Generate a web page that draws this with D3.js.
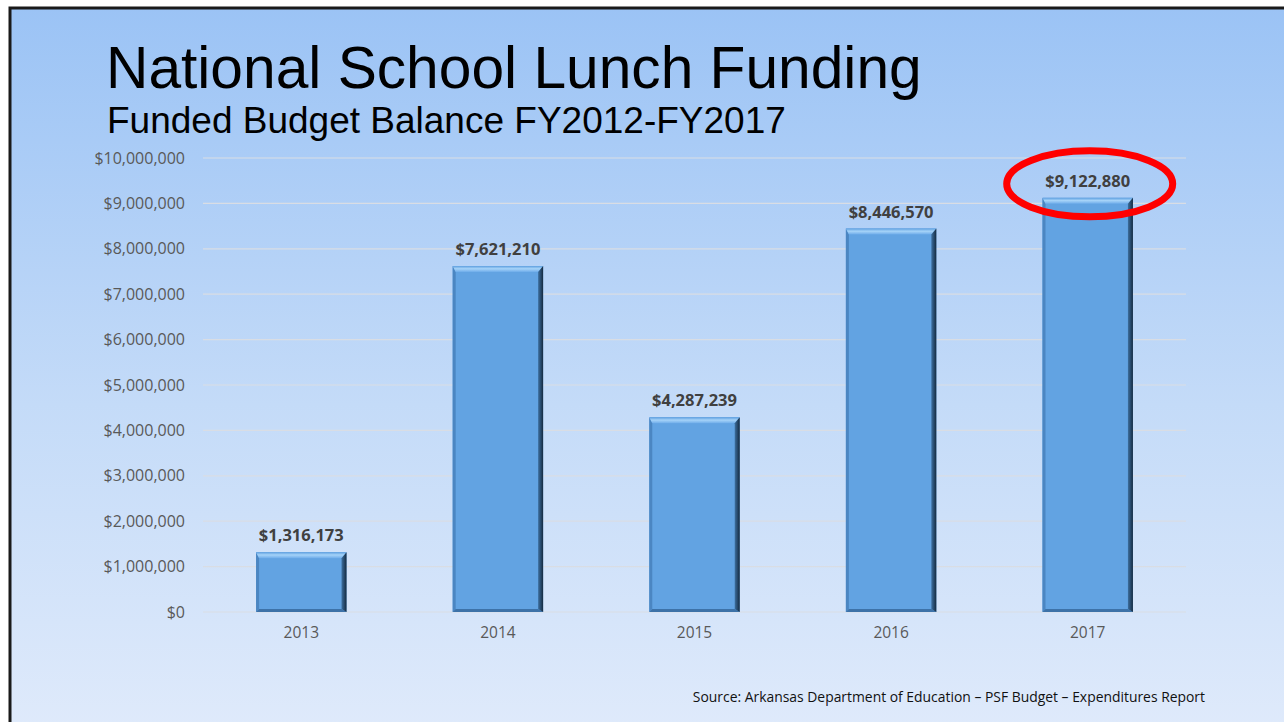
<!DOCTYPE html>
<html>
<head>
<meta charset="utf-8">
<script src="https://cdn.jsdelivr.net/npm/d3@7"></script>
<style>
  body { margin: 0; background: #fff; }
  svg { display: block; }
</style>
</head>
<body>
<div id="chart"></div>
<script>
// data
const years = ["2013", "2014", "2015", "2016", "2017"];
const balances = [1316173, 7621210, 4287239, 8446570, 9122880];
const yTicks = [0, 1000000, 2000000, 3000000, 4000000, 5000000, 6000000, 7000000, 8000000, 9000000, 10000000];
const highlightYear = "2017";

const W = 1284, H = 722;
const svg = d3.select("#chart").append("svg")
    .attr("width", W)
    .attr("height", H);

const defs = svg.append("defs");
let bg = defs.append("linearGradient").attr("id", "bg")
    .attr("x1", 0).attr("y1", 0).attr("x2", 0).attr("y2", 1);
bg.append("stop").attr("offset", "0%").attr("stop-color", "#9bc3f5");
bg.append("stop").attr("offset", "55%").attr("stop-color", "#c4dbf8");
bg.append("stop").attr("offset", "100%").attr("stop-color", "#dfeafb");

let topG = defs.append("linearGradient").attr("id", "bevelTop")
    .attr("x1", 0).attr("y1", 0).attr("x2", 0).attr("y2", 1);
topG.append("stop").attr("offset", "0%").attr("stop-color", "#5d9fe0");
topG.append("stop").attr("offset", "45%").attr("stop-color", "#a6d3f8");
topG.append("stop").attr("offset", "100%").attr("stop-color", "#6eacea");

let rightG = defs.append("linearGradient").attr("id", "bevelRight")
    .attr("x1", 0).attr("y1", 0).attr("x2", 1).attr("y2", 0);
rightG.append("stop").attr("offset", "0%").attr("stop-color", "#3d6f9f");
rightG.append("stop").attr("offset", "100%").attr("stop-color", "#142a40");

// slide frame
svg.append("rect")
    .attr("x", 10).attr("y", 8)
    .attr("width", W).attr("height", H)
    .attr("fill", "url(#bg)")
    .attr("stroke", "#1a1a1a")
    .attr("stroke-width", 3);

// titles
svg.append("text")
    .attr("x", 106).attr("y", 88)
    .attr("font-family", "Liberation Sans, Arial, sans-serif")
    .attr("font-size", 58.7)
    .attr("fill", "#000")
    .text("National School Lunch Funding");

svg.append("text")
    .attr("x", 107).attr("y", 133)
    .attr("font-family", "Liberation Sans, Arial, sans-serif")
    .attr("font-size", 37)
    .attr("fill", "#000")
    .text("Funded Budget Balance FY2012-FY2017");

const margin = {top: 158, left: 203, right: 98, bottom: 110};
const plotW = W - margin.left - margin.right;
const plotH = H - margin.top - margin.bottom;

const x = d3.scaleBand().domain(years).range([0, plotW]).paddingInner(0.54).paddingOuter(0.27);
const y = d3.scaleLinear().domain([0, 10000000]).range([plotH, 0]);

const g = svg.append("g")
    .attr("transform", "translate(" + margin.left + "," + margin.top + ")");

const fmt = d3.format("$,");

// gridlines
g.selectAll(".grid")
    .data(yTicks)
    .enter().append("line")
    .attr("x1", 0).attr("x2", plotW)
    .attr("y1", d => y(d)).attr("y2", d => y(d))
    .attr("stroke", "#d9dde4")
    .attr("stroke-width", 1.2);

// y axis labels
const yAxis = g.append("g")
    .call(d3.axisLeft(y).tickValues(yTicks).tickFormat(fmt).tickSize(0).tickPadding(18));
yAxis.select(".domain").remove();
yAxis.selectAll("text")
    .attr("font-family", "Open Sans, sans-serif")
    .attr("font-size", 16)
    .attr("fill", "#595959");

// x axis labels
const xAxis = g.append("g")
    .attr("transform", "translate(0," + plotH + ")")
    .call(d3.axisBottom(x).tickSize(0).tickPadding(15));
xAxis.select(".domain").remove();
xAxis.selectAll("text")
    .attr("font-family", "Open Sans, sans-serif")
    .attr("font-size", 15.5)
    .attr("fill", "#595959");

// bars with bevel
const bars = g.selectAll(".bar")
    .data(years.map((d, i) => ({year: d, value: balances[i]})))
    .enter().append("g")
    .attr("class", "bar");

bars.append("rect")
    .attr("x", d => x(d.year))
    .attr("y", d => y(d.value))
    .attr("width", x.bandwidth())
    .attr("height", d => plotH - y(d.value))
    .attr("fill", "#62a3e2");

const bv = 6;
// left edge
bars.append("polygon")
    .attr("points", d => {
        const x0 = x(d.year), y0 = y(d.value), y1 = plotH;
        return [[x0, y0], [x0 + 3, y0 + bv], [x0 + 3, y1 - 3], [x0, y1]].join(" ");
    })
    .attr("fill", "#4b86c2");
// bottom edge
bars.append("polygon")
    .attr("points", d => {
        const x0 = x(d.year), x1 = x0 + x.bandwidth(), y1 = plotH;
        return [[x0, y1], [x0 + 3, y1 - 3], [x1 - 5, y1 - 3], [x1, y1]].join(" ");
    })
    .attr("fill", "#3d72a8");
// top bevel
bars.append("polygon")
    .attr("points", d => {
        const x0 = x(d.year), x1 = x0 + x.bandwidth(), y0 = y(d.value);
        return [[x0, y0], [x1, y0], [x1 - 5, y0 + bv], [x0 + 3, y0 + bv]].join(" ");
    })
    .attr("fill", "url(#bevelTop)");
// right bevel
bars.append("polygon")
    .attr("points", d => {
        const x1 = x(d.year) + x.bandwidth(), y0 = y(d.value), y1 = plotH;
        return [[x1 - 5, y0 + bv], [x1, y0], [x1, y1], [x1 - 5, y1 - 3]].join(" ");
    })
    .attr("fill", "url(#bevelRight)");

// value labels
bars.append("text")
    .attr("x", d => x(d.year) + x.bandwidth() / 2)
    .attr("y", d => y(d.value) - 11)
    .attr("text-anchor", "middle")
    .attr("font-family", "Open Sans, sans-serif")
    .attr("font-weight", "bold")
    .attr("font-size", 16.5)
    .attr("fill", "#404040")
    .text(d => fmt(d.value));

// highlight ring
const hi = balances[years.indexOf(highlightYear)];
g.append("ellipse")
    .attr("cx", x(highlightYear) + x.bandwidth() / 2 + 2)
    .attr("cy", y(hi) - 14)
    .attr("rx", 83)
    .attr("ry", 33)
    .attr("fill", "none")
    .attr("stroke", "#ff0000")
    .attr("stroke-width", 7);

// source
svg.append("text")
    .attr("x", 1205).attr("y", 702)
    .attr("text-anchor", "end")
    .attr("font-family", "Open Sans, sans-serif")
    .attr("font-size", 13.9)
    .attr("fill", "#111")
    .text("Source: Arkansas Department of Education \u2013 PSF Budget \u2013 Expenditures Report");
</script>
</body>
</html>
